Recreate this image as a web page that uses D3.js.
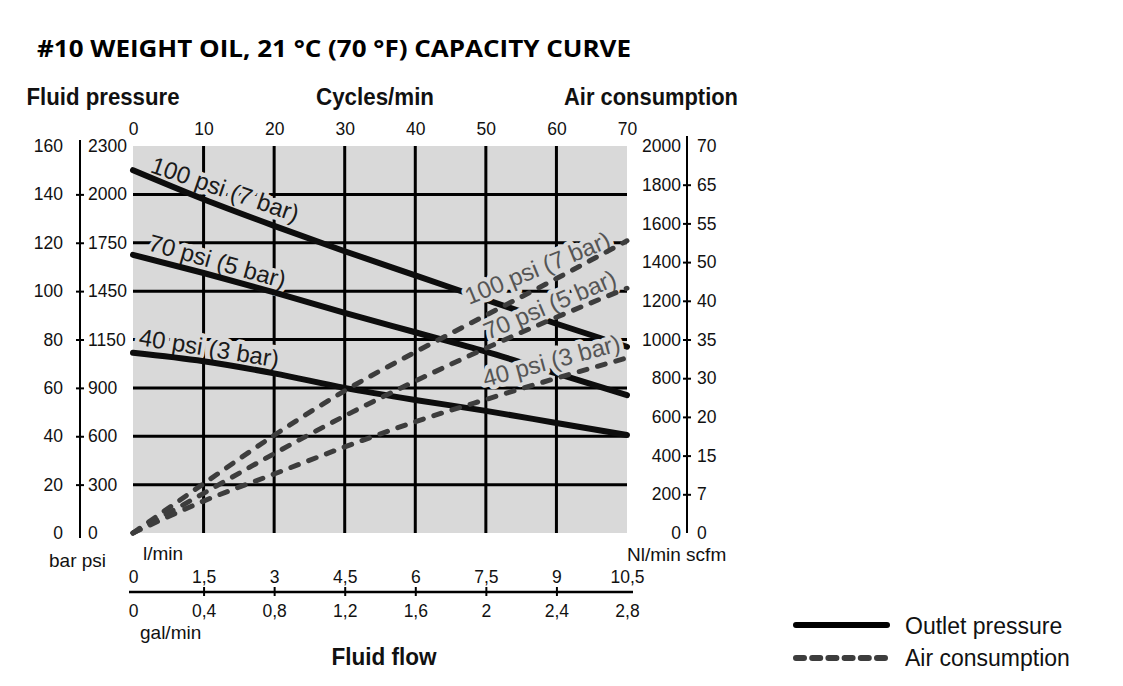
<!DOCTYPE html>
<html><head><meta charset="utf-8">
<script src="https://cdn.jsdelivr.net/npm/d3@7"></script>
<style>
body{margin:0;background:#fff}
svg{display:block}
text{font-family:"Liberation Sans",Arial,Helvetica,sans-serif}
</style>
</head><body>
<svg id="chart" width="1123" height="686"></svg>
<script>
// ---------------- data ----------------
const cycles = [0, 10, 20, 30, 40, 50, 60, 70];
const outlet100 = [150, 138, 127, 116.5, 106.5, 96.5, 86.5, 77];
const outlet70  = [115, 107.5, 99.5, 91, 83, 75, 66, 57];
const outlet40  = [74.5, 71, 66, 60, 55, 50.5, 45.5, 40.5];
const air100 = [0, 255, 505, 735, 935, 1125, 1315, 1510];
const air70  = [0, 205, 410, 605, 785, 955, 1115, 1265];
const air40  = [0, 165, 305, 445, 575, 690, 800, 905];
const seriesNames = ["100 psi (7 bar)", "70 psi (5 bar)", "40 psi (3 bar)"];

const barTicks = [0, 20, 40, 60, 80, 100, 120, 140, 160];
const psiLabels = ["0", "300", "600", "900", "1150", "1450", "1750", "2000", "2300"];
const airTicks = [0, 200, 400, 600, 800, 1000, 1200, 1400, 1600, 1800, 2000];
const scfmLabels = ["0", "7", "15", "20", "30", "35", "40", "50", "55", "65", "70"];
const cycleTicks = [0, 10, 20, 30, 40, 50, 60, 70];
const lpmTicks = [0, 1.5, 3, 4.5, 6, 7.5, 9, 10.5];
const lpmLabels = ["0", "1,5", "3", "4,5", "6", "7,5", "9", "10,5"];
const gpmTicks = [0, 0.4, 0.8, 1.2, 1.6, 2, 2.4, 2.8];
const gpmLabels = ["0", "0,4", "0,8", "1,2", "1,6", "2", "2,4", "2,8"];
const gridCycles = [10, 20, 30, 40, 50, 60];
const gridBar = [20, 40, 60, 80, 100, 120, 140];

// ---------------- layout ----------------
const L = 133, R = 627, T = 146, B = 533;
const BG = "#d9d9d9";
const svg = d3.select("#chart");

const x = d3.scaleLinear().domain([0, 70]).range([L, R]);
const yBar = d3.scaleLinear().domain([0, 160]).range([B, T]);
const yAir = d3.scaleLinear().domain([0, 2000]).range([B, T]);
const xL = d3.scaleLinear().domain([0, 10.5]).range([L, R]);
const xG = d3.scaleLinear().domain([0, 2.8]).range([L, R]);

const TICKFONT = 17.5;

// title
svg.append("text").attr("x", 37).attr("y", 57)
  .attr("textLength", 594).attr("lengthAdjust", "spacingAndGlyphs")
  .style("font-family", "'Open Sans','Noto Sans',sans-serif")
  .style("font-weight", 700).style("font-size", "23px").attr("fill", "#000")
  .text("#10 WEIGHT OIL, 21 °C (70 °F) CAPACITY CURVE");

// axis titles
function boldTitle(txt, cx, y, w) {
  svg.append("text").attr("x", cx).attr("y", y).attr("text-anchor", "middle")
    .attr("textLength", w).attr("lengthAdjust", "spacingAndGlyphs")
    .style("font-weight", 700).style("font-size", "23.5px").attr("fill", "#111").text(txt);
}
boldTitle("Fluid pressure", 103, 105, 153);
boldTitle("Cycles/min", 375, 105, 118);
boldTitle("Air consumption", 651, 105, 174);
boldTitle("Fluid flow", 384, 665, 105);

// plot background
svg.append("rect").attr("x", L).attr("y", T).attr("width", R - L).attr("height", B - T).attr("fill", BG);

// grid
const grid = svg.append("g");
grid.selectAll("line.v").data(gridCycles).join("line")
  .attr("x1", d => x(d)).attr("x2", d => x(d)).attr("y1", T).attr("y2", B)
  .attr("stroke", "#000").attr("stroke-width", 3);
grid.selectAll("line.h").data(gridBar).join("line")
  .attr("x1", L).attr("x2", R).attr("y1", d => yBar(d)).attr("y2", d => yBar(d))
  .attr("stroke", "#000").attr("stroke-width", 3);

function styleAxis(g) {
  g.select(".domain").remove();
  g.selectAll("text").style("font-family", "'Liberation Sans',Arial,sans-serif")
    .style("font-size", TICKFONT + "px").attr("fill", "#111");
  g.selectAll(".tick line").attr("stroke", "#000").attr("stroke-width", 2);
  g.attr("font-family", null).attr("font-size", null);
}
function dropEndTicks(g, n) {
  g.selectAll(".tick line").filter((d, i) => i === 0 || i === n - 1).remove();
}

// left axis
const axL = 80;
svg.append("line").attr("x1", axL).attr("x2", axL).attr("y1", T - 6).attr("y2", B + 5)
  .attr("stroke", "#000").attr("stroke-width", 2);
svg.append("g").attr("transform", `translate(${axL},0)`)
  .call(d3.axisLeft(yBar).tickValues(barTicks).tickFormat(d => d).tickSize(4).tickPadding(13))
  .call(styleAxis).call(g => dropEndTicks(g, barTicks.length));
svg.append("g").attr("transform", `translate(${axL},0)`)
  .call(d3.axisRight(yBar).tickValues(barTicks).tickFormat((d, i) => psiLabels[i]).tickSize(4).tickPadding(4))
  .call(styleAxis).call(g => dropEndTicks(g, barTicks.length));

// right axis
const axR = 687;
svg.append("line").attr("x1", axR).attr("x2", axR).attr("y1", T - 10).attr("y2", B)
  .attr("stroke", "#000").attr("stroke-width", 2);
svg.append("g").attr("transform", `translate(${axR},0)`)
  .call(d3.axisLeft(yAir).tickValues(airTicks).tickFormat(d => d).tickSize(4).tickPadding(2))
  .call(styleAxis).call(g => dropEndTicks(g, airTicks.length));
svg.append("g").attr("transform", `translate(${axR},0)`)
  .call(d3.axisRight(yAir).tickValues(airTicks).tickFormat((d, i) => scfmLabels[i]).tickSize(4).tickPadding(6))
  .call(styleAxis).call(g => dropEndTicks(g, airTicks.length));

// top axis (cycles/min)
svg.append("g").attr("transform", `translate(0,${T})`)
  .call(d3.axisTop(x).tickValues(cycleTicks).tickFormat(d => d).tickSize(0).tickPadding(11))
  .call(styleAxis);

// bottom axis (fluid flow)
const axB = 592;
svg.append("line").attr("x1", L - 4).attr("x2", R + 6).attr("y1", axB).attr("y2", axB)
  .attr("stroke", "#000").attr("stroke-width", 2.5);
svg.append("g").attr("transform", `translate(0,${axB})`)
  .call(d3.axisTop(xL).tickValues(lpmTicks).tickFormat((d, i) => lpmLabels[i]).tickSize(5).tickPadding(4))
  .call(styleAxis).call(g => dropEndTicks(g, lpmTicks.length));
svg.append("g").attr("transform", `translate(0,${axB})`)
  .call(d3.axisBottom(xG).tickValues(gpmTicks).tickFormat((d, i) => gpmLabels[i]).tickSize(4).tickPadding(9))
  .call(styleAxis).call(g => dropEndTicks(g, gpmTicks.length));

// unit labels
function unit(txt, xx, yy) {
  svg.append("text").attr("x", xx).attr("y", yy).style("font-size", "19px").attr("fill", "#111").text(txt);
}
unit("bar psi", 49, 567);
unit("l/min", 143, 560);
unit("Nl/min scfm", 627, 561);
unit("gal/min", 140, 639);

// curves
const line = d3.line().x((d, i) => x(cycles[i])).curve(d3.curveMonotoneX);
const outletSeries = [outlet100, outlet70, outlet40];
const airSeries = [air100, air70, air40];

function label(txt, cyc, bar, ang, color) {
  svg.append("text")
    .attr("transform", `translate(${x(cyc)},${yBar(bar)}) rotate(${ang})`)
    .style("font-size", "24px")
    .attr("fill", color)
    .attr("stroke", BG).attr("stroke-width", 9).attr("stroke-linejoin", "round")
    .style("paint-order", "stroke")
    .text(txt);
}

// outlet-pressure labels (knock out grid)
label(seriesNames[0], 2.3, 149.3, 19, "#1a1a1a");
label(seriesNames[1], 2.0, 117.0, 15.8, "#1a1a1a");
label(seriesNames[2], 0.7, 77.7, 9.1, "#1a1a1a");

// solid outlet-pressure curves
svg.append("g").selectAll("path").data(outletSeries).join("path")
  .attr("d", d => line.y(v => yBar(v))(d))
  .attr("fill", "none").attr("stroke", "#0d0d0d").attr("stroke-width", 6)
  .attr("stroke-linecap", "round");

// air-consumption labels (knock out solid curves)
label(seriesNames[0], 47.6, 94.3, -22.2, "#555");
label(seriesNames[1], 50.3, 79.8, -23, "#555");
label(seriesNames[2], 49.9, 60.4, -14.9, "#555");

// dashed air-consumption curves
svg.append("g").selectAll("path").data(airSeries).join("path")
  .attr("d", d => line.y(v => yAir(v))(d))
  .attr("fill", "none").attr("stroke", "#3d3d3d").attr("stroke-width", 5)
  .attr("stroke-linecap", "round").attr("stroke-dasharray", "8 11");

// legend
svg.append("line").attr("x1", 796).attr("x2", 887).attr("y1", 625).attr("y2", 625)
  .attr("stroke", "#000").attr("stroke-width", 6).attr("stroke-linecap", "round");
svg.append("line").attr("x1", 796).attr("x2", 887).attr("y1", 658).attr("y2", 658)
  .attr("stroke", "#3d3d3d").attr("stroke-width", 6).attr("stroke-linecap", "round")
  .attr("stroke-dasharray", "8 8.2");
svg.append("text").attr("x", 905).attr("y", 634).style("font-size", "23px").attr("fill", "#111").text("Outlet pressure");
svg.append("text").attr("x", 905).attr("y", 666).style("font-size", "23px").attr("fill", "#111").text("Air consumption");
</script>
</body></html>
